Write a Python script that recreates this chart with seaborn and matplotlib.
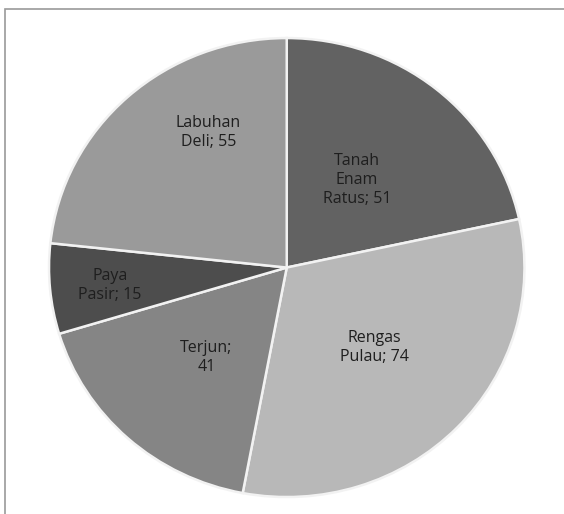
import matplotlib
matplotlib.use("Agg")
import matplotlib.pyplot as plt
import seaborn as sns
from matplotlib.patches import Rectangle

# data (clockwise from top)
villages = ["Tanah\nEnam\nRatus", "Rengas\nPulau", "Terjun", "Paya\nPasir", "Labuhan\nDeli"]
counts = [51, 74, 41, 15, 55]
shades = ["#626262", "#b8b8b8", "#858585", "#4d4d4d", "#9a9a9a"]

sns.set_theme(style="white")
plt.rcParams['font.family'] = ['Open Sans', 'DejaVu Sans']

fig = plt.figure(figsize=(5.64, 5.14), dpi=100)
fig.patch.set_facecolor("white")

# chart frame (top and left edges visible)
fig.add_artist(Rectangle((0.009, -0.01), 1.1, 0.993, transform=fig.transFigure,
                         fill=False, edgecolor="#9a9a9a", linewidth=1.2))

ax = fig.add_axes([0.0869, 0.033, 0.843, 0.893])
wedges, _ = ax.pie(counts, colors=shades, startangle=90, counterclock=False,
                   wedgeprops=dict(edgecolor="#f2f2f2", linewidth=1.8))
ax.set_aspect("auto")
ax.set_xlim(-1.0, 1.0)
ax.set_ylim(-1.0, 1.0)

# label spots inside each slice
label_xy = [(0.295, 0.38), (0.367, -0.349), (-0.338, -0.393), (-0.743, -0.079), (-0.329, 0.59)]
for name, val, (x, y) in zip(villages, counts, label_xy):
    if name == "Terjun":
        txt = f"{name};\n{val}"
    else:
        txt = f"{name}; {val}"
    ax.text(x, y, txt, ha="center", va="center", fontsize=11.5,
            color="#1e1e1e", linespacing=1.25)

plt.savefig("out.png", dpi=100)
